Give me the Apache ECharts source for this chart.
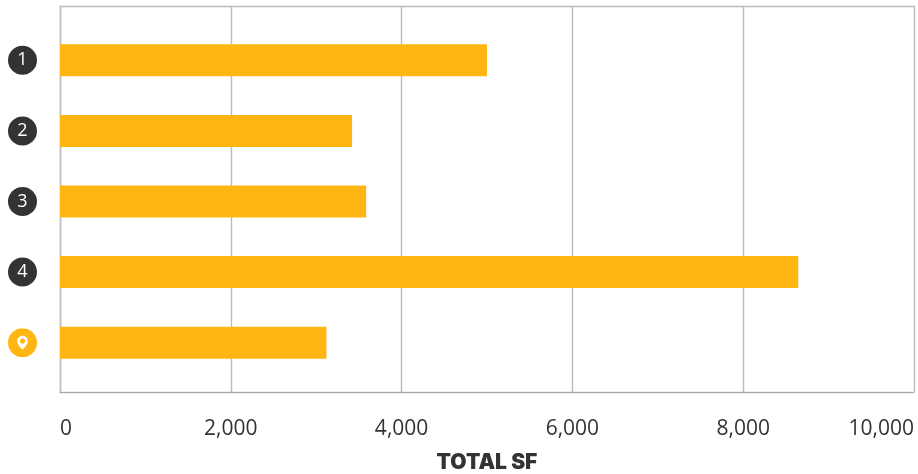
<!DOCTYPE html>
<html><head><meta charset="utf-8">
<style>html,body{margin:0;padding:0;background:#fff}#c{width:918px;height:474px}</style>
<script src="https://cdn.jsdelivr.net/npm/echarts@6/dist/echarts.min.js"></script>
</head><body><div id="c"></div>
<script>
const categories = ['1','2','3','4','pin'];
const totalSf = [5000,3420,3585,8645,3120];
const xTicks = [0,2000,4000,6000,8000,10000];
const axisTitle = 'TOTAL SF';
const pinSvg = "data:image/svg+xml;utf8," + encodeURIComponent('<svg xmlns="http://www.w3.org/2000/svg" width="58" height="58" viewBox="0 0 29 29"><circle cx="14.5" cy="14.5" r="14.5" fill="#FFB612"/><path fill-rule="evenodd" fill="#fff" d="M14.5 7.6c-3 0-5.3 2.3-5.3 5.2 0 3.3 3.5 6.9 5.3 8.8 1.8-1.9 5.3-5.5 5.3-8.8 0-2.9-2.3-5.2-5.3-5.2zm0 2.6a2.6 2.6 0 1 1 0 5.2 2.6 2.6 0 0 1 0-5.2z"/></svg>');
const chart = echarts.init(document.getElementById('c'), null, {renderer:'canvas'});
const lineC = '#bcbcbc';
chart.setOption({
  animation:false,
  grid:[
    {left:60,right:4,top:6,bottom:82,show:false,outerBoundsMode:'none'},
    {left:60,right:4,top:25,bottom:96,show:false,outerBoundsMode:'none'}
  ],
  xAxis:[
    {gridIndex:0,type:'value',min:xTicks[0],max:xTicks[xTicks.length-1],interval:2000,
     axisLine:{show:true,lineStyle:{color:'#a8a8a8',width:1.2}},axisTick:{show:false},
     splitLine:{show:true,lineStyle:{color:lineC,width:1.4}},
     axisLabel:{show:true,color:'#333',fontFamily:'Open Sans',fontSize:21,margin:27,alignMinLabel:'left',alignMaxLabel:'right',
       formatter:v=>v.toLocaleString('en-US')},
     name:axisTitle,nameLocation:'middle',nameGap:60,
     nameTextStyle:{fontFamily:'Inter',fontWeight:900,fontSize:21,color:'#333'}},
    {gridIndex:1,type:'value',min:xTicks[0],max:xTicks[xTicks.length-1],show:false}
  ],
  yAxis:[
    {gridIndex:0,type:'value',min:0,max:1,interval:1,axisLine:{show:true,lineStyle:{color:lineC,width:1.4}},axisTick:{show:false},axisLabel:{show:false},
     splitLine:{show:true,lineStyle:{color:lineC,width:1.4}}},
    {gridIndex:1,type:'category',inverse:true,data:categories,
     axisLine:{show:false},axisTick:{show:false},splitLine:{show:false},
     axisLabel:{margin:23,align:'right',verticalAlign:'middle',
       formatter:v=>v==='pin'?'{pin|}':'{n|'+v+'}',
       rich:{
         n:{width:29,height:29,lineHeight:29,borderRadius:14.5,backgroundColor:'#333333',color:'#fff',align:'center',fontFamily:'Open Sans',fontSize:18},
         pin:{width:29,height:29,backgroundColor:{image:pinSvg}}
       }}}
  ],
  series:[{type:'bar',xAxisIndex:1,yAxisIndex:1,data:totalSf,barWidth:32,
    itemStyle:{color:'#FFB612'},silent:true}]
});
</script></body></html>
